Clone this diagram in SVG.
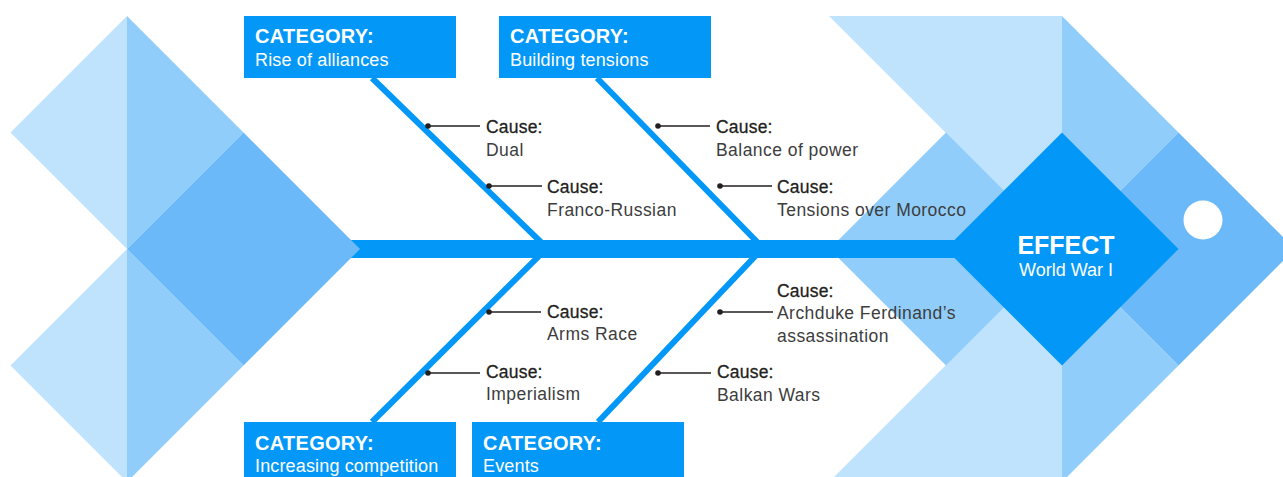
<svg xmlns="http://www.w3.org/2000/svg" width="1283" height="477" viewBox="0 0 1283 477">
<style>
.l1{fill:#BFE3FD}.l2{fill:#90CDFA}.l3{fill:#6CB9F9}.pri{fill:#0398F7}
.bone{stroke:#0398F7;stroke-width:6;fill:none}
.lead{stroke:#231F20;stroke-width:1.5;fill:none}
.dot{fill:#231F20}
.cat{font-family:"Liberation Sans",Arial,sans-serif;font-weight:700;font-size:20px;letter-spacing:0.3px;fill:#fff}
.sub{font-family:"Liberation Sans",Arial,sans-serif;font-size:18px;letter-spacing:0.15px;fill:#fff}
.ch{font-family:"Liberation Sans",Arial,sans-serif;font-size:17.5px;letter-spacing:0.2px;fill:#231F20;stroke:#231F20;stroke-width:0.3px}
.cd{font-family:"Liberation Sans",Arial,sans-serif;font-size:17.5px;letter-spacing:0.45px;fill:#3d3d3d}
</style>
<rect width="1283" height="477" fill="#fff"/>
<g id="head-bg">
<polygon class="l1" points="829,16 1062,16 1062,249 946,133"/>
<polygon class="l1" points="829,482 1062,482 1062,249 946,365"/>
<polygon class="l2" points="1062,16 1178.5,132.5 1062,249"/>
<polygon class="l2" points="1062,482 1178.5,365.5 1062,249"/>
<polygon class="l3" points="1178.5,132.5 1295,249 1178.5,365.5 1062,249"/>
<polygon class="l2" points="829.5,249 946,132.5 1062.5,249 946,365.5"/>
</g>
<g id="connectors">
<rect class="pri" x="345" y="240" width="620" height="18"/>
<line class="bone" x1="372" y1="78" x2="548" y2="249"/>
<line class="bone" x1="597" y1="78" x2="764" y2="249"/>
<line class="bone" x1="372" y1="422" x2="546" y2="249"/>
<line class="bone" x1="598" y1="422" x2="762" y2="249"/>
<g>
<line class="lead" x1="428" y1="126" x2="480" y2="126"/><circle class="dot" cx="428" cy="126" r="2.8"/>
<line class="lead" x1="489" y1="186" x2="542" y2="186"/><circle class="dot" cx="489" cy="186" r="2.8"/>
<line class="lead" x1="658" y1="126" x2="710" y2="126"/><circle class="dot" cx="658" cy="126" r="2.8"/>
<line class="lead" x1="720" y1="186" x2="772" y2="186"/><circle class="dot" cx="720" cy="186" r="2.8"/>
<line class="lead" x1="489" y1="312" x2="541" y2="312"/><circle class="dot" cx="489" cy="312" r="2.8"/>
<line class="lead" x1="428" y1="373" x2="480" y2="373"/><circle class="dot" cx="428" cy="373" r="2.8"/>
<line class="lead" x1="720" y1="312" x2="773" y2="312"/><circle class="dot" cx="720" cy="312" r="2.8"/>
<line class="lead" x1="658" y1="373" x2="711" y2="373"/><circle class="dot" cx="658" cy="373" r="2.8"/>
</g>
</g>
<g id="tail">
<polygon class="l1" points="127,16 10.5,132.5 127,249"/>
<polygon class="l2" points="127,16 243.5,132.5 127,249"/>
<polygon class="l1" points="127,249 10.5,365.5 127,482"/>
<polygon class="l2" points="127,249 243.5,365.5 127,482"/>
<polygon class="l3" points="127,249 243.5,132.5 360,249 243.5,365.5"/>
</g>
<g id="effect">
<polygon class="pri" points="945.5,249 1062,132.5 1178.5,249 1062,365.5"/>
<circle cx="1203" cy="220" r="19.5" fill="#fff"/>
<text x="1066" y="254" text-anchor="middle" font-family="Liberation Sans, Arial, sans-serif" font-weight="700" font-size="25" fill="#fff">EFFECT</text>
<text x="1066" y="276" text-anchor="middle" font-family="Liberation Sans, Arial, sans-serif" font-size="18" fill="#fff">World War I</text>
</g>
<g id="cat-alliances">
<rect class="pri" x="244" y="16" width="212" height="62"/>
<text class="cat" x="255" y="43">CATEGORY:</text>
<text class="sub" x="255" y="66">Rise of alliances</text>
</g>
<g id="cat-tensions">
<rect class="pri" x="499" y="16" width="212" height="62"/>
<text class="cat" x="510" y="43">CATEGORY:</text>
<text class="sub" x="510" y="66">Building tensions</text>
</g>
<g id="cat-competition">
<rect class="pri" x="244" y="422" width="212" height="60"/>
<text class="cat" x="255" y="450">CATEGORY:</text>
<text class="sub" x="255" y="472">Increasing competition</text>
</g>
<g id="cat-events">
<rect class="pri" x="472" y="422" width="212" height="60"/>
<text class="cat" x="483" y="450">CATEGORY:</text>
<text class="sub" x="483" y="472">Events</text>
</g>
<g id="cause-dual"><text class="ch" x="486" y="133">Cause:</text><text class="cd" x="486" y="156">Dual</text></g>
<g id="cause-franco"><text class="ch" x="547" y="193">Cause:</text><text class="cd" x="547" y="216">Franco-Russian</text></g>
<g id="cause-balance"><text class="ch" x="716" y="133">Cause:</text><text class="cd" x="716" y="156">Balance of power</text></g>
<g id="cause-morocco"><text class="ch" x="777" y="193">Cause:</text><text class="cd" x="777" y="216">Tensions over Morocco</text></g>
<g id="cause-arms"><text class="ch" x="547" y="318">Cause:</text><text class="cd" x="547" y="340">Arms Race</text></g>
<g id="cause-imperialism"><text class="ch" x="486" y="378">Cause:</text><text class="cd" x="486" y="400">Imperialism</text></g>
<g id="cause-archduke"><text class="ch" x="777" y="297">Cause:</text><text class="cd" x="777" y="319">Archduke Ferdinand’s</text><text class="cd" x="777" y="342">assassination</text></g>
<g id="cause-balkan"><text class="ch" x="717" y="378">Cause:</text><text class="cd" x="717" y="401">Balkan Wars</text></g>
</svg>
